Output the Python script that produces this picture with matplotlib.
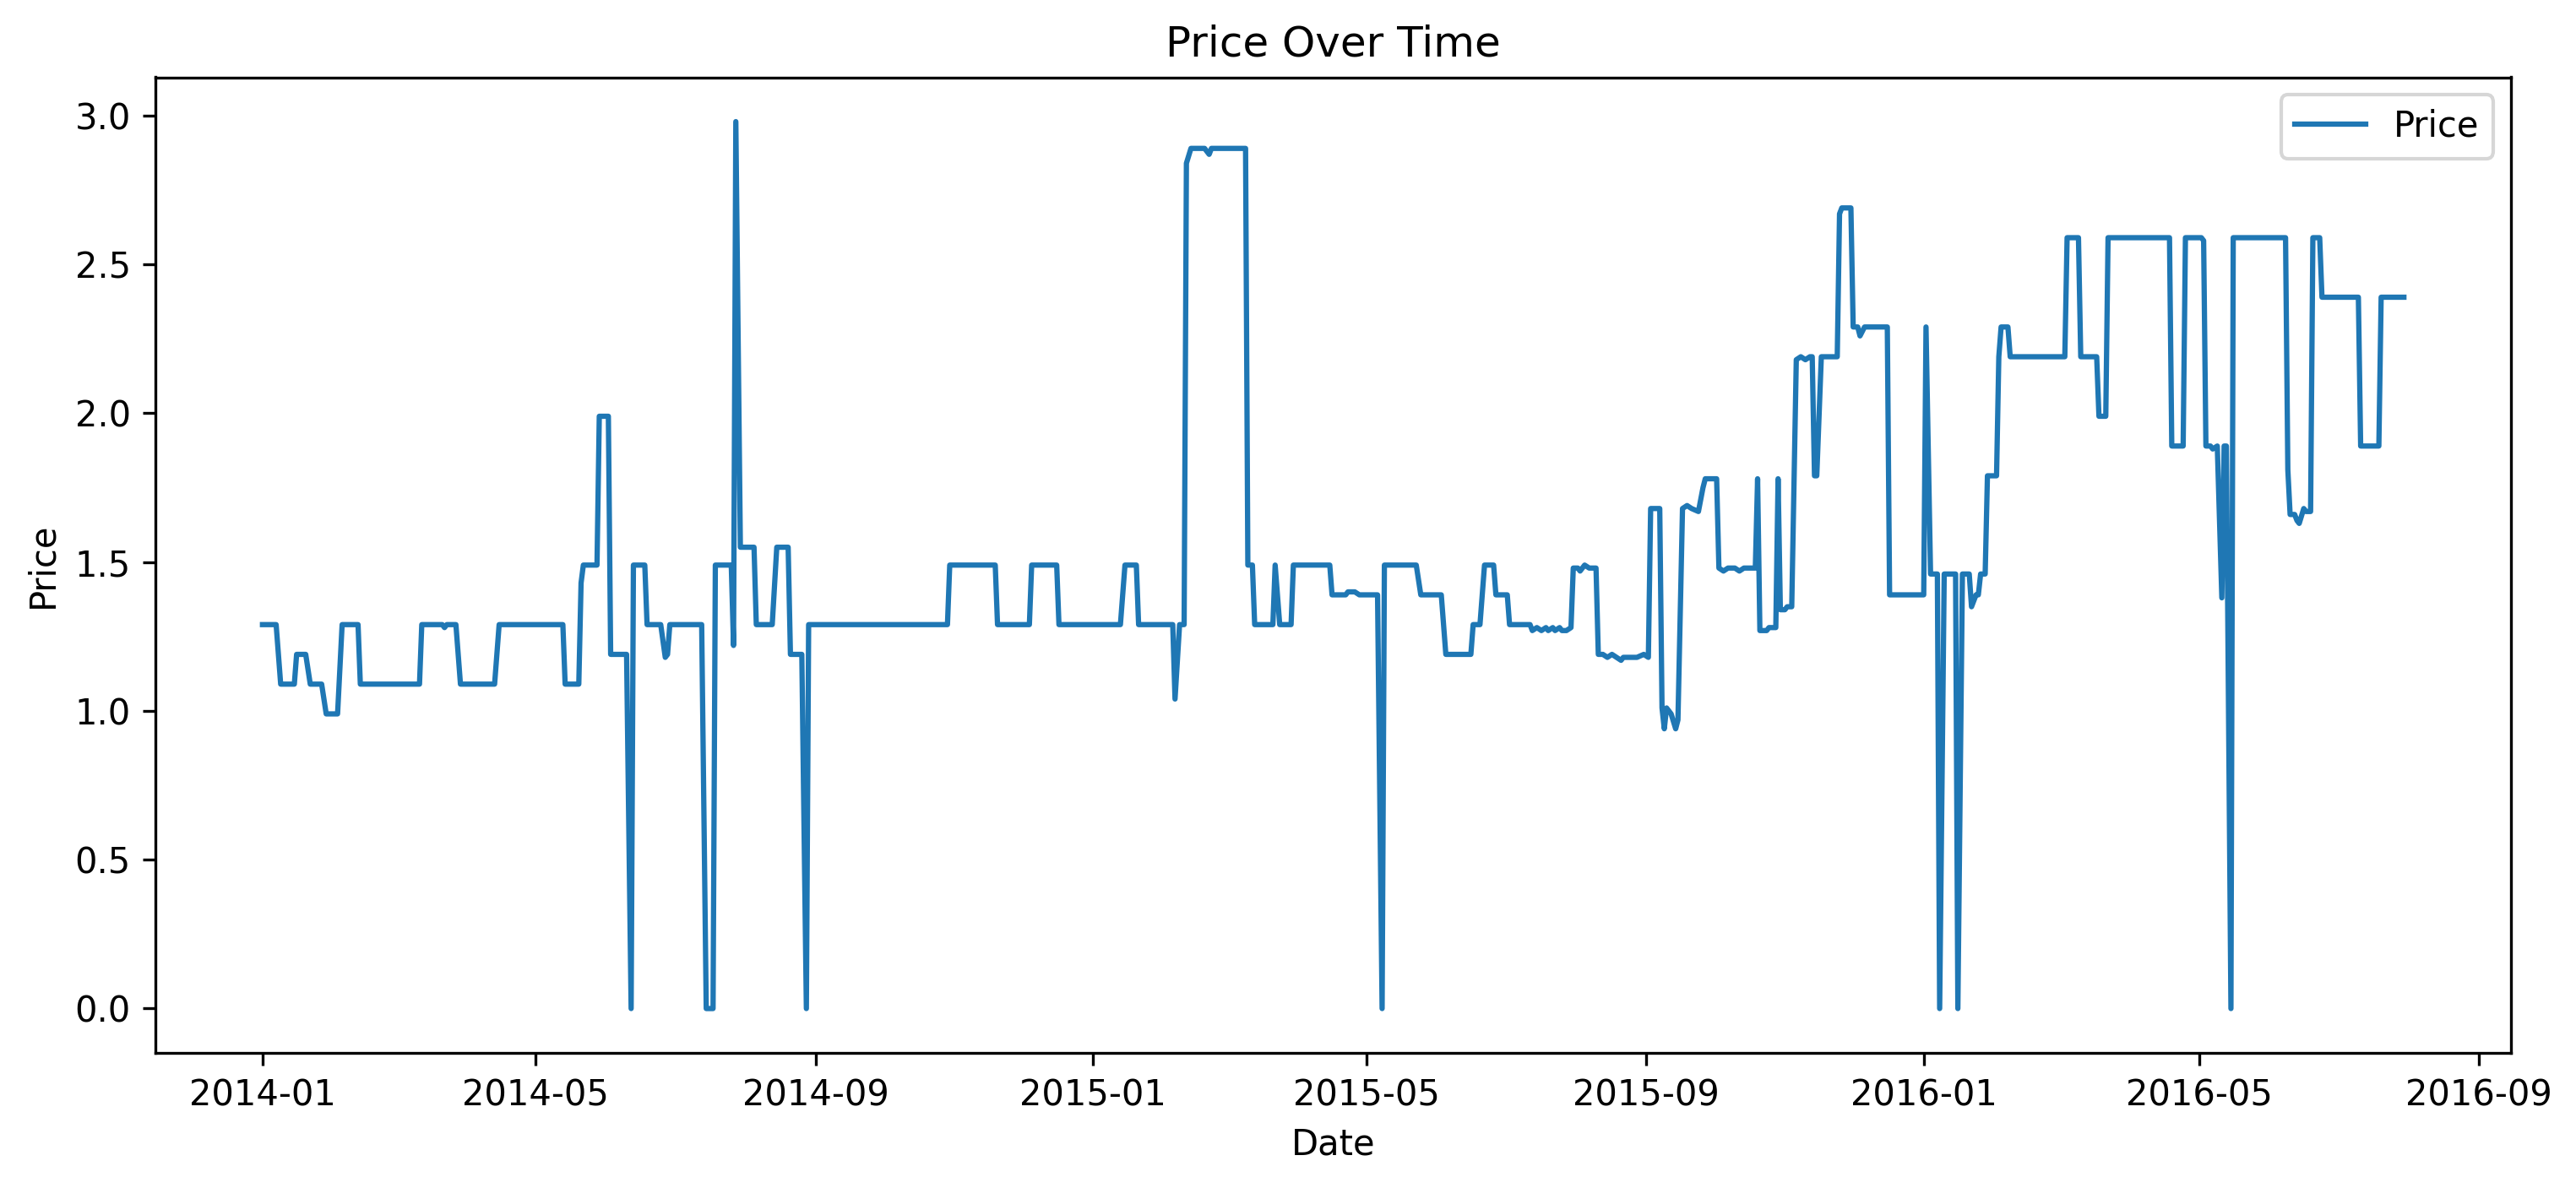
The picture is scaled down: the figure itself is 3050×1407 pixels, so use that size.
import pandas as pd
from matplotlib import pyplot as plt

# Дати та ціни
dates = [
    "2014-01-01", "2014-01-07", "2014-01-09", "2014-01-15", "2014-01-16", "2014-01-20",
    "2014-01-22", "2014-01-27", "2014-01-29", "2014-02-03", "2014-02-05", "2014-02-12",
    "2014-02-13", "2014-03-11", "2014-03-12", "2014-03-21", "2014-03-22", "2014-03-23",
    "2014-03-27", "2014-03-29", "2014-04-13", "2014-04-15", "2014-05-13", "2014-05-14",
    "2014-05-20", "2014-05-21", "2014-05-22", "2014-05-28", "2014-05-29", "2014-06-02",
    "2014-06-03", "2014-06-10", "2014-06-12", "2014-06-13", "2014-06-18", "2014-06-19",
    "2014-06-25", "2014-06-27", "2014-06-28", "2014-06-29", "2014-07-13", "2014-07-15",
    "2014-07-18", "2014-07-19", "2014-07-26", "2014-07-27", "2014-07-28", "2014-07-30",
    "2014-08-05", "2014-08-06", "2014-08-13", "2014-08-15", "2014-08-20", "2014-08-21",
    "2014-08-26", "2014-08-28", "2014-08-29", "2014-10-29", "2014-10-30", "2014-11-19",
    "2014-11-20", "2014-12-04", "2014-12-05", "2014-12-16", "2014-12-17",
    "2015-01-13", "2015-01-15", "2015-01-20", "2015-01-21", "2015-02-05", "2015-02-06",
    "2015-02-08", "2015-02-10", "2015-02-11", "2015-02-13", "2015-02-19", "2015-02-21",
    "2015-02-22", "2015-03-09", "2015-03-10", "2015-03-12", "2015-03-13", "2015-03-21",
    "2015-03-22", "2015-03-24", "2015-03-29", "2015-03-30", "2015-04-15", "2015-04-16",
    "2015-04-22", "2015-04-23", "2015-04-26", "2015-04-28", "2015-05-06", "2015-05-08",
    "2015-05-09", "2015-05-23", "2015-05-25", "2015-06-03", "2015-06-05", "2015-06-16",
    "2015-06-17", "2015-06-20", "2015-06-22", "2015-06-26", "2015-06-27", "2015-07-02",
    "2015-07-03", "2015-07-12", "2015-07-13", "2015-07-15", "2015-07-17", "2015-07-19",
    "2015-07-20", "2015-07-22", "2015-07-23", "2015-07-25", "2015-07-26", "2015-07-28",
    "2015-07-30", "2015-07-31", "2015-08-02", "2015-08-03", "2015-08-05", "2015-08-07",
    "2015-08-10", "2015-08-11", "2015-08-13", "2015-08-15", "2015-08-17", "2015-08-19",
    "2015-08-21", "2015-08-22", "2015-08-24", "2015-08-26", "2015-08-28", "2015-08-31",
    "2015-09-02", "2015-09-03", "2015-09-07", "2015-09-08", "2015-09-09", "2015-09-10",
    "2015-09-12", "2015-09-14", "2015-09-15", "2015-09-17", "2015-09-19", "2015-09-21",
    "2015-09-24", "2015-09-26", "2015-09-27", "2015-10-02", "2015-10-03", "2015-10-05",
    "2015-10-07", "2015-10-10", "2015-10-12", "2015-10-14", "2015-10-19", "2015-10-20",
    "2015-10-21", "2015-10-24", "2015-10-25", "2015-10-28", "2015-10-29", "2015-10-30",
    "2015-11-01", "2015-11-02", "2015-11-04", "2015-11-05", "2015-11-06", "2015-11-08",
    "2015-11-10", "2015-11-12", "2015-11-13", "2015-11-14", "2015-11-15", "2015-11-17",
    "2015-11-24", "2015-11-25", "2015-11-26", "2015-11-30", "2015-12-01", "2015-12-03",
    "2015-12-04", "2015-12-06", "2015-12-16", "2015-12-17",
    "2016-01-01", "2016-01-02", "2016-01-04", "2016-01-07", "2016-01-08", "2016-01-10",
    "2016-01-15", "2016-01-16", "2016-01-18", "2016-01-21", "2016-01-22", "2016-01-24",
    "2016-01-25", "2016-01-26", "2016-01-28", "2016-01-29", "2016-02-02", "2016-02-03",
    "2016-02-04", "2016-02-07", "2016-02-08", "2016-03-03", "2016-03-04", "2016-03-09",
    "2016-03-10", "2016-03-17", "2016-03-18", "2016-03-21", "2016-03-22", "2016-04-18",
    "2016-04-19", "2016-04-24", "2016-04-25", "2016-05-02", "2016-05-03", "2016-05-04",
    "2016-05-06", "2016-05-07", "2016-05-09", "2016-05-11", "2016-05-12", "2016-05-13",
    "2016-05-15", "2016-05-16", "2016-06-08", "2016-06-09", "2016-06-10", "2016-06-12",
    "2016-06-13", "2016-06-14", "2016-06-16", "2016-06-17", "2016-06-19", "2016-06-20",
    "2016-06-23", "2016-06-24", "2016-07-10", "2016-07-11", "2016-07-19", "2016-07-20",
    "2016-07-30",
]

prices = [
    1.29, 1.29, 1.09, 1.09, 1.19, 1.19,
    1.09, 1.09, 0.99, 0.99, 1.29, 1.29,
    1.09, 1.09, 1.29, 1.29, 1.28, 1.29,
    1.29, 1.09, 1.09, 1.29, 1.29, 1.09,
    1.09, 1.43, 1.49, 1.49, 1.99, 1.99,
    1.19, 1.19, 0.00, 1.49, 1.49, 1.29,
    1.29, 1.18, 1.19, 1.29, 1.29, 0.00,
    0.00, 1.49, 1.49, 1.22, 2.98, 1.55,
    1.55, 1.29, 1.29, 1.55, 1.55, 1.19,
    1.19, 0.00, 1.29, 1.29, 1.49, 1.49,
    1.29, 1.29, 1.49, 1.49, 1.29,
    1.29, 1.49, 1.49, 1.29, 1.29, 1.04,
    1.29, 1.29, 2.84, 2.89, 2.89, 2.87,
    2.89, 2.89, 1.49, 1.49, 1.29, 1.29,
    1.49, 1.29, 1.29, 1.49, 1.49, 1.39,
    1.39, 1.40, 1.40, 1.39, 1.39, 0.00,
    1.49, 1.49, 1.39, 1.39, 1.19, 1.19,
    1.29, 1.29, 1.49, 1.49, 1.39, 1.39,
    1.29, 1.29, 1.27, 1.28, 1.27, 1.28,
    1.27, 1.28, 1.27, 1.28, 1.27, 1.27,
    1.28, 1.48, 1.48, 1.47, 1.49, 1.48,
    1.48, 1.19, 1.19, 1.18, 1.19, 1.18,
    1.17, 1.18, 1.18, 1.18, 1.18, 1.19,
    1.18, 1.68, 1.68, 1.01, 0.94, 1.01,
    0.99, 0.94, 0.97, 1.68, 1.69, 1.68,
    1.67, 1.75, 1.78, 1.78, 1.48, 1.47,
    1.48, 1.48, 1.47, 1.48, 1.48, 1.78,
    1.27, 1.27, 1.28, 1.28, 1.78, 1.34,
    1.34, 1.35, 1.35, 1.76, 2.18, 2.19,
    2.18, 2.19, 2.19, 1.79, 1.79, 2.19,
    2.19, 2.67, 2.69, 2.69, 2.29, 2.29,
    2.26, 2.29, 2.29, 1.39,
    1.39, 2.29, 1.46, 1.46, 0.00, 1.46,
    1.46, 0.00, 1.46, 1.46, 1.35, 1.39,
    1.39, 1.46, 1.46, 1.79, 1.79, 2.19,
    2.29, 2.29, 2.19, 2.19, 2.59, 2.59,
    2.19, 2.19, 1.99, 1.99, 2.59, 2.59,
    1.89, 1.89, 2.59, 2.59, 2.58, 1.89,
    1.89, 1.88, 1.89, 1.38, 1.89, 1.89,
    0.00, 2.59, 2.59, 1.81, 1.66, 1.66,
    1.64, 1.63, 1.68, 1.67, 1.67, 2.59,
    2.59, 2.39, 2.39, 1.89, 1.89, 2.39,
    2.39,
]

# Побудова графіка
df = pd.DataFrame({"Date": pd.to_datetime(dates), "Price": prices})

fig = plt.figure(figsize=(3050 / 300, 1407 / 300), dpi=300)
ax = fig.add_axes([184 / 3050, 1 - 1247 / 1407, 2789 / 3050, 1155.5 / 1407])
ax.plot(df["Date"], df["Price"], label="Price")
ax.set_title("Price Over Time")
ax.set_xlabel("Date")
ax.set_ylabel("Price")
ax.legend(loc="upper right")
fig.savefig("out.png", dpi=300)
